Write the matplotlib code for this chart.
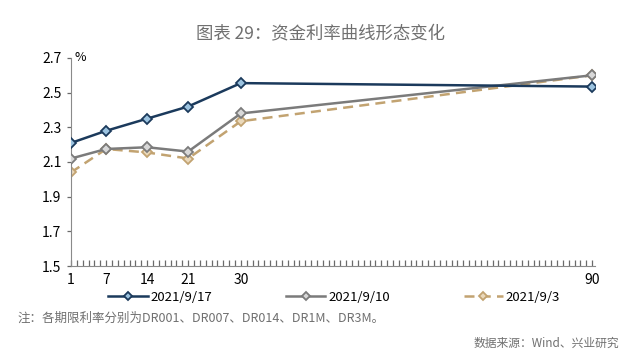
import numpy as np
import matplotlib.pyplot as plt

plt.rcParams['font.family'] = ['Noto Sans CJK SC', 'DejaVu Sans']

# 期限（天）
tenors = [1, 7, 14, 21, 30, 90]
tick_labels = ['1', '7', '14', '21', '30', '90']

rate_0917 = [2.21, 2.28, 2.35, 2.42, 2.555, 2.535]
rate_0910 = [2.12, 2.175, 2.185, 2.16, 2.38, 2.60]
rate_0903 = [2.04, 2.175, 2.155, 2.12, 2.335, 2.60]

labels = ['2021/9/17', '2021/9/10', '2021/9/3']

title = '图表 29：资金利率曲线形态变化'
note = '注：各期限利率分别为DR001、DR007、DR014、DR1M、DR3M。'
source = '数据来源：Wind、兴业研究'

fig = plt.figure(figsize=(6.4, 3.55), dpi=100)
ax = fig.add_axes([0.111, 0.2507, 0.8187, 0.586])

ax.plot(tenors, rate_0917, color='#1b3a5c', lw=1.8, marker='D', ms=5,
	mfc='#9cc3e0', mec='#1b3a5c', mew=1.3, label=labels[0], zorder=4)
ax.plot(tenors, rate_0910, color='#7b7b7b', lw=1.8, marker='D', ms=5,
	mfc='#d8d8d8', mec='#7b7b7b', mew=1.3, label=labels[1], zorder=3)
ax.plot(tenors, rate_0903, color='#c2a371', lw=1.8, ls=(0, (4, 2.5)), marker='D', ms=5,
	mfc='#ead9bb', mec='#c2a371', mew=1.3, label=labels[2], zorder=2)

ax.set_xlim(1, 90.5)
ax.set_ylim(1.5, 2.7)
ax.set_xticks(tenors)
ax.set_xticklabels(tick_labels)
ax.set_xticks(np.arange(1, 91), minor=True)
ax.set_yticks([1.5, 1.7, 1.9, 2.1, 2.3, 2.5, 2.7])
ax.set_yticklabels(['1.5', '1.7', '1.9', '2.1', '2.3', '2.5', '2.7'])

for s in ['top', 'right']:
	ax.spines[s].set_visible(False)
for s in ['left', 'bottom']:
	ax.spines[s].set_color('#8a8a8a')

ax.tick_params(axis='x', which='major', direction='in', length=4.5, width=0.9,
	color='#6a6a6a', labelsize=10, pad=5)
ax.tick_params(axis='x', which='minor', direction='in', length=4.5, width=0.9,
	color='#6a6a6a')
ax.tick_params(axis='y', direction='out', length=3, width=0.9, color='#6a6a6a',
	labelsize=10, pad=4)

ax.text(1.6, 2.7, '%', fontsize=9, va='center', ha='left')

fig.text(0.5, 0.905, title, ha='center', va='center', fontsize=12.5, color='#707070')

fig.legend(loc='center', bbox_to_anchor=(0.522, 0.163), ncol=3, frameon=False,
	fontsize=9.5, handlelength=3.0, handletextpad=0.2, columnspacing=5.6,
	markerscale=0.8)

fig.text(0.028, 0.103, note, ha='left', va='center', fontsize=9, color='#707070')
fig.text(0.968, 0.033, source, ha='right', va='center', fontsize=8.5, color='#707070')

fig.savefig('out.png', dpi=100)
